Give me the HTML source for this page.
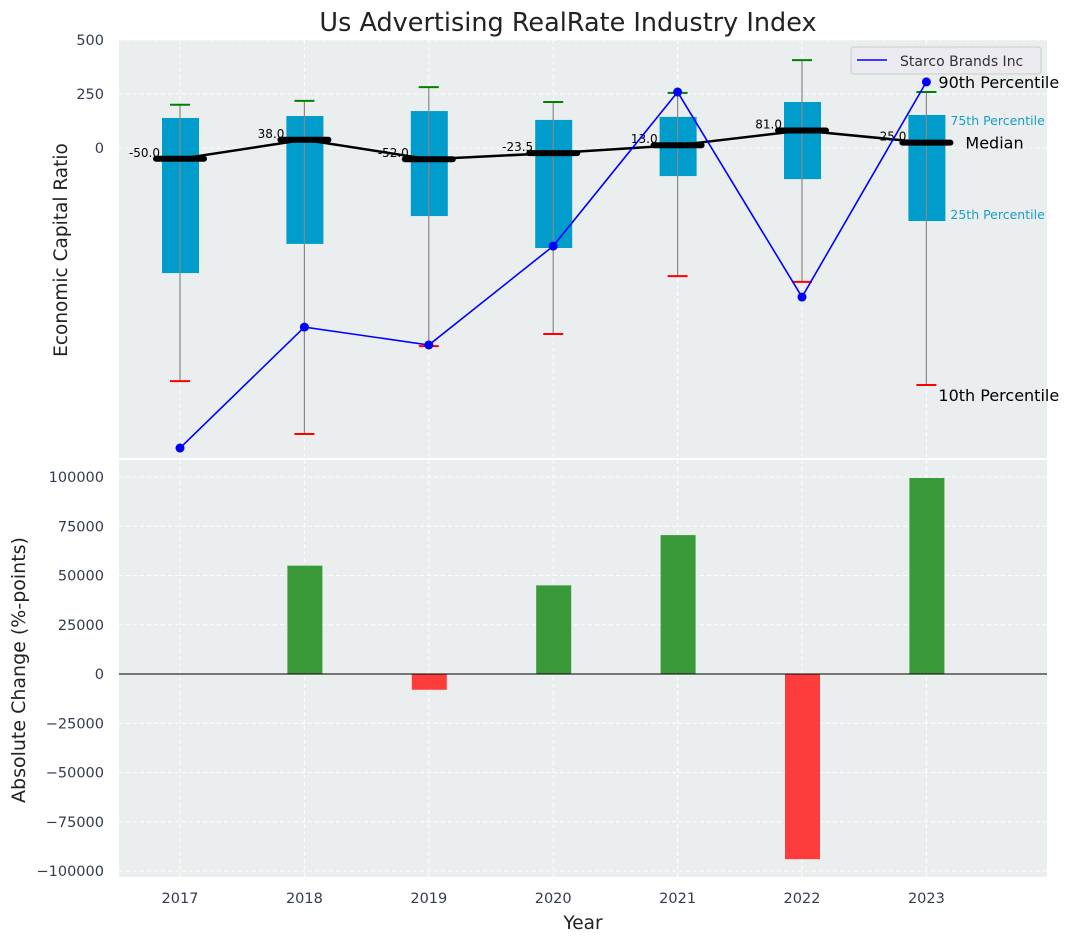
<!DOCTYPE html>
<html><head><meta charset="utf-8"><style>
body{margin:0;background:#fff;font-family:"Liberation Sans","DejaVu Sans",sans-serif;}
svg text{font-family:"DejaVu Sans","Liberation Sans",sans-serif;}
</style></head><body>
<svg id="c" width="1073" height="942" xmlns="http://www.w3.org/2000/svg"></svg>
<script>
const years=["2017","2018","2019","2020","2021","2022","2023"];
const p90=[200,218,282,213,255,407,259];
const p75=[139,148,171,130,144,213,153];
const median=[-50,38,-52,-23.5,13,81,25];
const p25=[-579,-444,-315,-463,-130,-144,-338];
const p10=[-1079,-1324,-917,-861,-593,-620,-1097];
const starco=[-1389,-829,-912,-454,259,-690,306];
const change=[0,55000,-8000,45000,70500,-94000,99500];
const topTicks=[0,250,500];
const botTicks=[-100000,-75000,-50000,-25000,0,25000,50000,75000,100000];

const NS="http://www.w3.org/2000/svg";
const svg=document.getElementById('c');
function el(tag,attrs,parent){const e=document.createElementNS(NS,tag);for(const k in attrs)e.setAttribute(k,attrs[k]);(parent||svg).appendChild(e);return e;}
const L=119,R=1047;
const xS=i=>180+i*124.4;
const yT=v=>148-v*0.216;
const yB=v=>674-v*0.00197;

let bg=el('rect',{x:L,y:40,width:R-L,height:418,fill:'#eaeeee'});

let bg2=el('rect',{x:L,y:460,width:R-L,height:417,fill:'#eaeeee'});


years.forEach((y,i)=>{
  el('line',{x1:xS(i),x2:xS(i),y1:40,y2:458,stroke:'#fff','stroke-dasharray':'4,3'});
  el('line',{x1:xS(i),x2:xS(i),y1:460,y2:877,stroke:'#fff','stroke-dasharray':'4,3'});
  let t=el('text',{x:xS(i),y:903,'text-anchor':'middle','font-size':14.5,fill:'#333c4e'});t.textContent=y;
  
});
topTicks.forEach(v=>{
  el('line',{x1:L,x2:R,y1:yT(v),y2:yT(v),stroke:'#fff','stroke-dasharray':'4,3'});
  let t=el('text',{x:104,y:yT(v)+5,'text-anchor':'end','font-size':14.5,fill:'#333c4e'});t.textContent=v;
  
});
botTicks.forEach(v=>{
  el('line',{x1:L,x2:R,y1:yB(v),y2:yB(v),stroke:'#fff','stroke-dasharray':'4,3'});
  let t=el('text',{x:104,y:yB(v)+5,'text-anchor':'end','font-size':14.5,fill:'#333c4e'});t.textContent=v<0?'\u2212'+(-v):v;
  
});

years.forEach((y,i)=>{
  const x=xS(i);
  let b=el('rect',{x:x-18,y:yT(p75[i]),width:37,height:yT(p25[i])-yT(p75[i]),fill:'#009ccc'});
  
  let w=el('line',{x1:x,x2:x,y1:yT(p90[i]),y2:yT(p10[i]),stroke:'#888','stroke-width':1.2});
  
  let c1=el('line',{x1:x-10,x2:x+10,y1:yT(p90[i]),y2:yT(p90[i]),stroke:'green','stroke-width':2});
  
  let c2=el('line',{x1:x-10,x2:x+10,y1:yT(p10[i]),y2:yT(p10[i]),stroke:'red','stroke-width':2});
  
});
let mp=el('polyline',{points:median.map((v,i)=>xS(i)+','+yT(v)).join(' '),fill:'none',stroke:'#000','stroke-width':2.5});

median.forEach((v,i)=>{
  let s=el('line',{x1:xS(i)-24,x2:xS(i)+24,y1:yT(v),y2:yT(v),stroke:'#000','stroke-width':6,'stroke-linecap':'round'});
  
  let t=el('text',{x:xS(i)-20,y:yT(v)-2,'text-anchor':'end','font-size':12,fill:'#000'});t.textContent=v.toFixed(1);
  
});
let sp=el('polyline',{points:starco.map((v,i)=>xS(i)+','+yT(v)).join(' '),fill:'none',stroke:'blue','stroke-width':1.6});

starco.forEach((v,i)=>{
  let c=el('circle',{cx:xS(i),cy:yT(v),r:4.5,fill:'blue'});
  
});
const last=6,lx=xS(last);
[['90th Percentile',lx+12,yT(starco[last])+6,16,'#000'],['75th Percentile',lx+24,yT(p75[last])+10,12.5,'#1a9ccc'],['Median',lx+39,yT(median[last])+6,16,'#000'],['25th Percentile',lx+24,yT(p25[last])-2,12.5,'#1a9ccc'],['10th Percentile',lx+12,yT(p10[last])+16,16,'#000']].forEach(a=>{
  let t=el('text',{x:a[1],y:a[2],'font-size':a[3],fill:a[4]});t.textContent=a[0];
  
});
let lg=el('g',{});
el('rect',{x:851,y:47,width:190,height:27,rx:3,fill:'#eaeaf0',stroke:'#ccc'},lg);
el('line',{x1:857,x2:887,y1:60,y2:60,stroke:'blue','stroke-width':1.6},lg);
let lt=el('text',{x:900,y:66,'font-size':14,fill:'#333'},lg);lt.textContent='Starco Brands Inc';

change.forEach((v,i)=>{
  if(v===0)return;
  let b=el('rect',{x:xS(i)-17,y:Math.min(yB(v),yB(0)),width:35,height:Math.abs(yB(v)-yB(0)),fill:v>0?'#3a9a3a':'#ff3c3c'});
  
});
el('line',{x1:L,x2:R,y1:yB(0),y2:yB(0),stroke:'#000','stroke-width':1});

let tt=el('text',{x:568,y:31,'text-anchor':'middle','font-size':25.5,fill:'#222'});tt.textContent='Us Advertising RealRate Industry Index';

let ya=el('text',{x:0,y:0,'text-anchor':'middle','font-size':18.5,fill:'#222',transform:'translate(67,250) rotate(-90)'});ya.textContent='Economic Capital Ratio';

let yb=el('text',{x:0,y:0,'text-anchor':'middle','font-size':19,fill:'#222',transform:'translate(25,670) rotate(-90)'});yb.textContent='Absolute Change (%-points)';

let xa=el('text',{x:583,y:929,'text-anchor':'middle','font-size':18.5,fill:'#222'});xa.textContent='Year';

</script>
</body></html>
